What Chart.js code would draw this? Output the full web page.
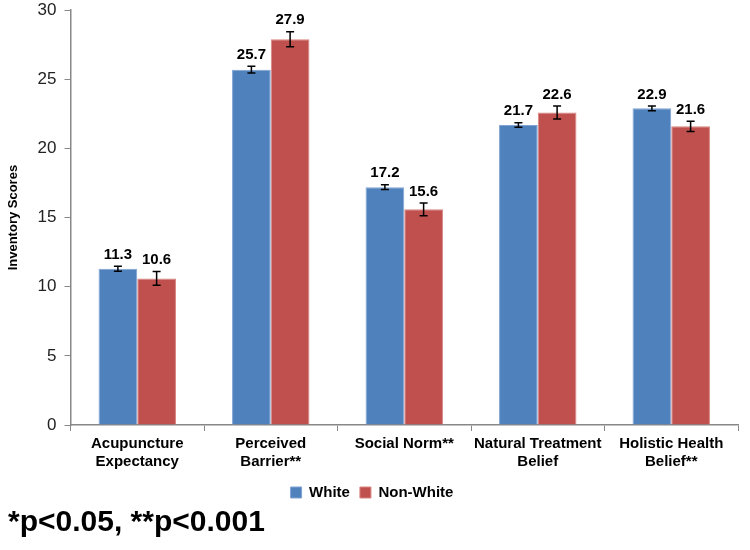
<!DOCTYPE html>
<html>
<head>
<meta charset="utf-8">
<script src="https://cdn.jsdelivr.net/npm/chart.js@4"></script>
<style>
  body { margin: 0; background: #fff; overflow: hidden; }
  #wrap { position: relative; width: 750px; height: 550px; overflow: hidden; }
  #box { position: absolute; left: 0; top: -8px; width: 750px; height: 518px; }
  #note {
    position: absolute; left: 8px; top: 504px;
    font: bold 30px "Liberation Sans Narrow", "Arial Narrow", "Liberation Sans", sans-serif;
    color: #000;
  }
</style>
</head>
<body>
<div id="wrap">
  <div id="box"><canvas id="chart"></canvas></div>
  <div id="note">*p&lt;0.05, **p&lt;0.001</div>
</div>
<script>
const categories = [
  ["Acupuncture", "Expectancy"],
  ["Perceived", "Barrier**"],
  ["Social Norm**"],
  ["Natural Treatment", "Belief"],
  ["Holistic Health", "Belief**"]
];
const whiteScores = [11.3, 25.7, 17.2, 21.7, 22.9];
const nonWhiteScores = [10.6, 27.9, 15.6, 22.6, 21.6];
const whiteErrors = [0.18, 0.25, 0.17, 0.16, 0.18];
const nonWhiteErrors = [0.5, 0.55, 0.46, 0.47, 0.37];

const narrow = '"Liberation Sans Narrow", "Arial Narrow", "Liberation Sans", sans-serif';

// error bars and value labels drawn over each bar
const barExtras = {
  id: 'barExtras',
  afterDatasetsDraw(chart) {
    const ctx = chart.ctx;
    const y = chart.scales.y;
    chart.data.datasets.forEach((ds, i) => {
      const meta = chart.getDatasetMeta(i);
      meta.data.forEach((bar, j) => {
        const v = ds.data[j];
        const e = ds.errors[j];
        const top = y.getPixelForValue(v + e);
        const bot = y.getPixelForValue(v - e);
        ctx.save();
        ctx.strokeStyle = '#000';
        ctx.lineWidth = 1.5;
        ctx.beginPath();
        ctx.moveTo(bar.x, top); ctx.lineTo(bar.x, bot);
        ctx.moveTo(bar.x - 4, top); ctx.lineTo(bar.x + 4, top);
        ctx.moveTo(bar.x - 4, bot); ctx.lineTo(bar.x + 4, bot);
        ctx.stroke();
        ctx.fillStyle = '#000';
        ctx.font = 'bold 15px "Liberation Sans", Arial, sans-serif';
        ctx.textAlign = 'center';
        ctx.textBaseline = 'bottom';
        ctx.fillText(v.toFixed(1), bar.x, top - 4);
        ctx.restore();
      });
    });
  }
};

new Chart(document.getElementById('chart'), {
  type: 'bar',
  data: {
    labels: categories,
    datasets: [{
      label: 'White',
      data: whiteScores,
      errors: whiteErrors,
      backgroundColor: '#4F81BD',
      borderColor: '#7FA3D3',
      borderWidth: 1,
      categoryPercentage: 0.58,
      barPercentage: 1
    }, {
      label: 'Non-White',
      data: nonWhiteScores,
      errors: nonWhiteErrors,
      backgroundColor: '#C0504D',
      borderColor: '#D88482',
      borderWidth: 1,
      categoryPercentage: 0.58,
      barPercentage: 1
    }]
  },
  options: {
    responsive: true,
    maintainAspectRatio: false,
    animation: false,
    layout: { padding: { top: 0, right: 12, left: 6, bottom: 0 } },
    plugins: {
      legend: {
        position: 'bottom',
        labels: {
          boxWidth: 11, boxHeight: 11, padding: 10,
          color: '#000',
          font: { family: narrow, size: 15, weight: 'bold' }
        }
      },
      tooltip: { enabled: false }
    },
    scales: {
      x: {
        grid: { display: true, drawOnChartArea: false, drawTicks: true, tickLength: 6, color: '#888', offset: true },
        border: { color: '#888', width: 1.5 },
        ticks: { color: '#000', font: { family: narrow, size: 15, weight: 'bold' }, maxRotation: 0, padding: 4 }
      },
      y: {
        min: 0, max: 30,
        ticks: { stepSize: 5, color: '#222', font: { family: '"Liberation Sans", Arial, sans-serif', size: 17 }, padding: 8 },
        grid: { display: true, drawOnChartArea: false, drawTicks: true, tickLength: 6, color: '#888' },
        border: { color: '#888', width: 1.5 },
        title: {
          display: true, text: 'Inventory Scores', color: '#000', padding: { top: 0, bottom: 8 },
          font: { family: '"Liberation Sans", Arial, sans-serif', size: 13, weight: 'bold' }
        }
      }
    }
  },
  plugins: [barExtras]
});
</script>
</body>
</html>
